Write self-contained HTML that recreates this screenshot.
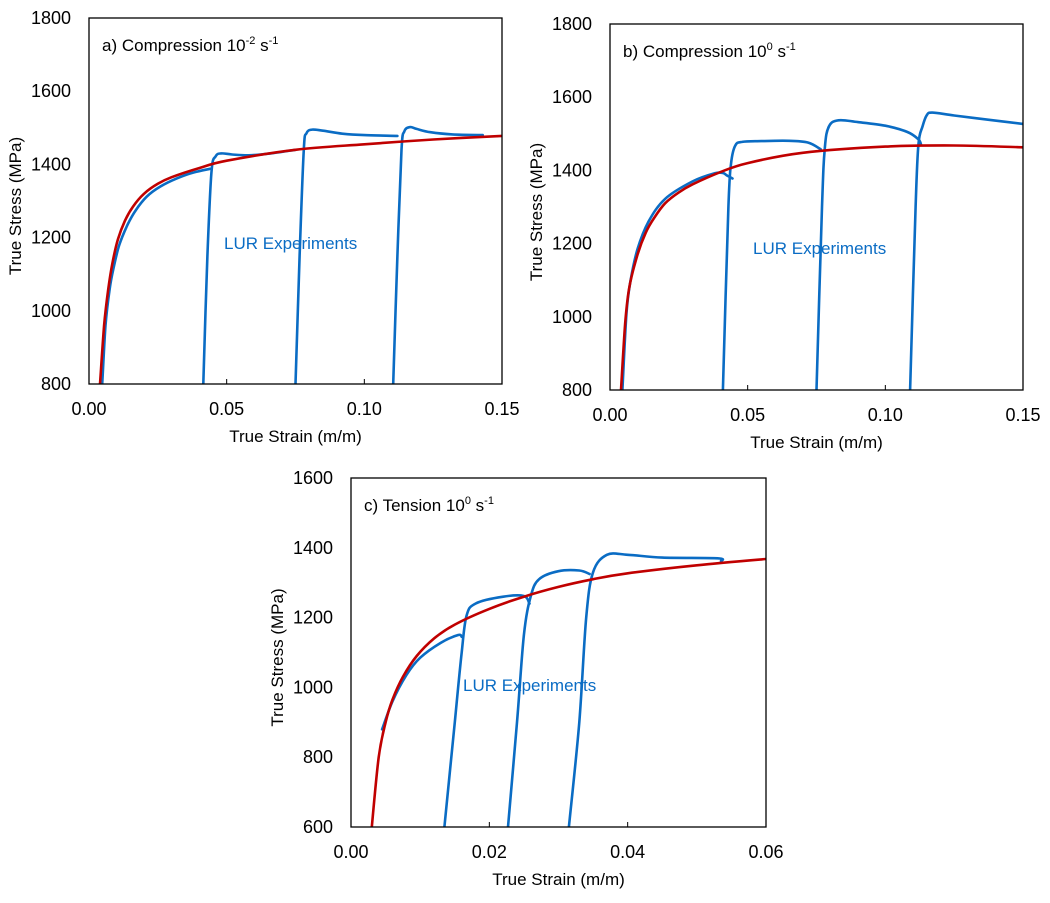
<!DOCTYPE html>
<html><head><meta charset="utf-8">
<style>
html,body{margin:0;padding:0;background:#fff;}
svg{display:block;font-family:"Liberation Sans",sans-serif;}
</style></head>
<body>
<svg id="fig" width="1050" height="903" viewBox="0 0 1050 903" xmlns="http://www.w3.org/2000/svg"></svg>
<script>
// ---- Panel a data ----
const aXTicks = [0, 0.05, 0.10, 0.15];
const aXTickLabels = ["0.00", "0.05", "0.10", "0.15"];
const aYTicks = [800, 1000, 1200, 1400, 1600, 1800];
const aModelStrain = [0.004,0.0055,0.007,0.0085,0.0105,0.013,0.016,0.02,0.025,0.03,0.04,0.05,0.075,0.1,0.125,0.15];
const aModelStress = [800,960,1060,1130,1195,1245,1285,1320,1347,1365,1390,1410,1440,1455,1468,1478];
const aExp1Strain = [0.0048,0.006,0.0075,0.009,0.011,0.014,0.017,0.021,0.026,0.032,0.038,0.044];
const aExp1Stress = [800,960,1060,1120,1180,1235,1275,1312,1340,1362,1378,1388];
const aExp2Strain = [0.0415,0.043,0.0445,0.046,0.048,0.052,0.058,0.066,0.075];
const aExp2Stress = [800,1150,1380,1422,1430,1427,1425,1430,1440];
const aExp3Strain = [0.075,0.0765,0.078,0.079,0.081,0.085,0.092,0.1,0.112];
const aExp3Stress = [800,1150,1440,1485,1495,1492,1484,1480,1478];
const aExp4Strain = [0.1105,0.112,0.1135,0.1145,0.1165,0.119,0.124,0.132,0.143];
const aExp4Stress = [800,1150,1440,1490,1502,1497,1488,1482,1480];

// ---- Panel b data ----
const bXTicks = [0, 0.05, 0.10, 0.15];
const bXTickLabels = ["0.00", "0.05", "0.10", "0.15"];
const bYTicks = [800, 1000, 1200, 1400, 1600, 1800];
const bModelStrain = [0.004,0.0055,0.007,0.01,0.013,0.016,0.02,0.025,0.03,0.04,0.05,0.07,0.1,0.125,0.15];
const bModelStress = [800,980,1080,1170,1230,1270,1310,1340,1362,1395,1420,1448,1465,1468,1463];
const bExp1Strain = [0.0045,0.006,0.0075,0.01,0.014,0.02,0.03,0.038,0.041,0.0425,0.0445];
const bExp1Stress = [800,1010,1100,1185,1260,1322,1370,1392,1393,1386,1378];
const bExp2Strain = [0.041,0.043,0.044,0.0455,0.048,0.055,0.065,0.072,0.0765];
const bExp2Stress = [800,1300,1420,1468,1478,1480,1481,1476,1458];
const bExp3Strain = [0.075,0.077,0.078,0.0795,0.083,0.09,0.1,0.108,0.112,0.113];
const bExp3Stress = [800,1300,1460,1520,1537,1532,1522,1505,1485,1470];
const bExp4Strain = [0.109,0.111,0.112,0.1135,0.115,0.117,0.125,0.138,0.15];
const bExp4Stress = [800,1300,1470,1520,1550,1558,1550,1538,1527];

// ---- Panel c data ----
const cXTicks = [0, 0.02, 0.04, 0.06];
const cXTickLabels = ["0.00", "0.02", "0.04", "0.06"];
const cYTicks = [600, 800, 1000, 1200, 1400, 1600];
const cModelStrain = [0.003,0.004,0.005,0.006,0.0075,0.0095,0.012,0.015,0.02,0.025,0.03,0.035,0.04,0.05,0.06];
const cModelStress = [600,800,900,965,1030,1090,1140,1180,1225,1260,1288,1310,1327,1350,1368];
const cExp1Strain = [0.0045,0.006,0.008,0.01,0.013,0.0155,0.016];
const cExp1Stress = [880,960,1035,1085,1128,1150,1145];
const cExp2Strain = [0.0135,0.015,0.016,0.0167,0.018,0.022,0.025,0.0258];
const cExp2Stress = [600,900,1100,1205,1240,1260,1262,1240];
const cExp3Strain = [0.0227,0.024,0.025,0.026,0.0272,0.03,0.033,0.0345];
const cExp3Stress = [600,900,1150,1262,1310,1333,1335,1325];
const cExp4Strain = [0.0315,0.033,0.034,0.035,0.037,0.04,0.045,0.053,0.0535];
const cExp4Stress = [600,900,1200,1330,1380,1380,1372,1370,1362];

const NS = "http://www.w3.org/2000/svg";
const svg = document.getElementById("fig");
function mk(tag, attrs, parent){
  const e = document.createElementNS(NS, tag);
  for (const k in attrs) e.setAttribute(k, attrs[k]);
  (parent||svg).appendChild(e);
  return e;
}
function smoothPath(p){
  let d = "M" + p[0][0].toFixed(1) + "," + p[0][1].toFixed(1);
  for (let i = 0; i < p.length - 1; i++){
    const p0 = p[Math.max(0, i-1)], p1 = p[i], p2 = p[i+1], p3 = p[Math.min(p.length-1, i+2)];
    const c1x = p1[0] + (p2[0]-p0[0])/6, c1y = p1[1] + (p2[1]-p0[1])/6;
    const c2x = p2[0] - (p3[0]-p1[0])/6, c2y = p2[1] - (p3[1]-p1[1])/6;
    d += " C" + c1x.toFixed(1)+","+c1y.toFixed(1)+" "+c2x.toFixed(1)+","+c2y.toFixed(1)+" "+p2[0].toFixed(1)+","+p2[1].toFixed(1);
  }
  return d;
}

function panel(id, box, xMax, yMin, yMax, xTicks, xLabels, yTicks, title, sup1, sup2, lur, model, exps){
  const g = mk("g", {});
  
  
  const X = v => box.x0 + (v / xMax) * (box.x1 - box.x0);
  const Y = v => box.y1 - (v - yMin) / (yMax - yMin) * (box.y1 - box.y0);

  const clipId = "clip-" + id;
  const cp = mk("clipPath", {id: clipId}, g);
  mk("rect", {x: box.x0, y: box.y0, width: box.x1 - box.x0, height: box.y1 - box.y0}, cp);

  xTicks.forEach((t, i) => {
    const tk = mk("line", {x1: X(t), x2: X(t), y1: box.y1, y2: box.y1 - 5, stroke: "#000", "stroke-width": 1}, g);
    
    
    const tl = mk("text", {x: X(t), y: box.y1 + 31, "font-size": 18, "text-anchor": "middle", fill: "#000"}, g);
    tl.textContent = xLabels[i];
    
    
  });
  yTicks.forEach(t => {
    const tl = mk("text", {x: box.x0 - 18, y: Y(t) + 6, "font-size": 18, "text-anchor": "end", fill: "#000"}, g);
    tl.textContent = String(t);
    
    
  });

  const draw = (xs, ys, color, name) => {
    const pts = xs.map((v, i) => [X(v), Y(ys[i])]);
    const pl = mk("path", {d: smoothPath(pts), fill: "none", stroke: color, "stroke-width": 2.6, "stroke-linejoin": "round", "stroke-linecap": "round", "clip-path": "url(#" + clipId + ")"}, g);
    
    
  };
  exps.forEach((e, i) => draw(e[0], e[1], "#0a6cc4", "lur-experiment-" + (i + 1)));
  draw(model[0], model[1], "#c00000", "model-curve");

  const frame = mk("rect", {x: box.x0, y: box.y0, width: box.x1 - box.x0, height: box.y1 - box.y0, fill: "none", stroke: "#000", "stroke-width": 1.3}, g);
  
  

  const tt = mk("text", {x: box.x0 + 13, y: box.y0 + 33, "font-size": 17, fill: "#000"}, g);
  
  
  tt.appendChild(document.createTextNode(title));
  const s1 = mk("tspan", {"font-size": 11, dy: -7}, tt); s1.textContent = sup1;
  const t2 = mk("tspan", {dy: 7}, tt); t2.textContent = " s";
  const s2 = mk("tspan", {"font-size": 11, dy: -7}, tt); s2.textContent = sup2;

  const lt = mk("text", {x: lur[0], y: lur[1], "font-size": 17, fill: "#0a6cc4"}, g);
  lt.textContent = "LUR Experiments";
  
  

  const xt = mk("text", {x: (box.x0 + box.x1) / 2, y: box.y1 + 58, "font-size": 17, "text-anchor": "middle", fill: "#000"}, g);
  xt.textContent = "True Strain (m/m)";
  
  
  const cy = (box.y0 + box.y1) / 2;
  const yt = mk("text", {x: box.x0 - 68, y: cy + 5, "font-size": 17, "text-anchor": "middle", fill: "#000", transform: "rotate(-90 " + (box.x0 - 68) + " " + (cy + 5) + ")"}, g);
  yt.textContent = "True Stress (MPa)";
  
  
}

panel("a", {x0: 89, x1: 502, y0: 18, y1: 384}, 0.15, 800, 1800, aXTicks, aXTickLabels, aYTicks,
  "a) Compression 10", "-2", "-1", [224, 249],
  [aModelStrain, aModelStress],
  [[aExp1Strain, aExp1Stress], [aExp2Strain, aExp2Stress], [aExp3Strain, aExp3Stress], [aExp4Strain, aExp4Stress]]);
panel("b", {x0: 610, x1: 1023, y0: 24, y1: 390}, 0.15, 800, 1800, bXTicks, bXTickLabels, bYTicks,
  "b) Compression 10", "0", "-1", [753, 254],
  [bModelStrain, bModelStress],
  [[bExp1Strain, bExp1Stress], [bExp2Strain, bExp2Stress], [bExp3Strain, bExp3Stress], [bExp4Strain, bExp4Stress]]);
panel("c", {x0: 351, x1: 766, y0: 478, y1: 827}, 0.06, 600, 1600, cXTicks, cXTickLabels, cYTicks,
  "c) Tension 10", "0", "-1", [463, 691],
  [cModelStrain, cModelStress],
  [[cExp1Strain, cExp1Stress], [cExp2Strain, cExp2Stress], [cExp3Strain, cExp3Stress], [cExp4Strain, cExp4Stress]]);
</script>
</body></html>
